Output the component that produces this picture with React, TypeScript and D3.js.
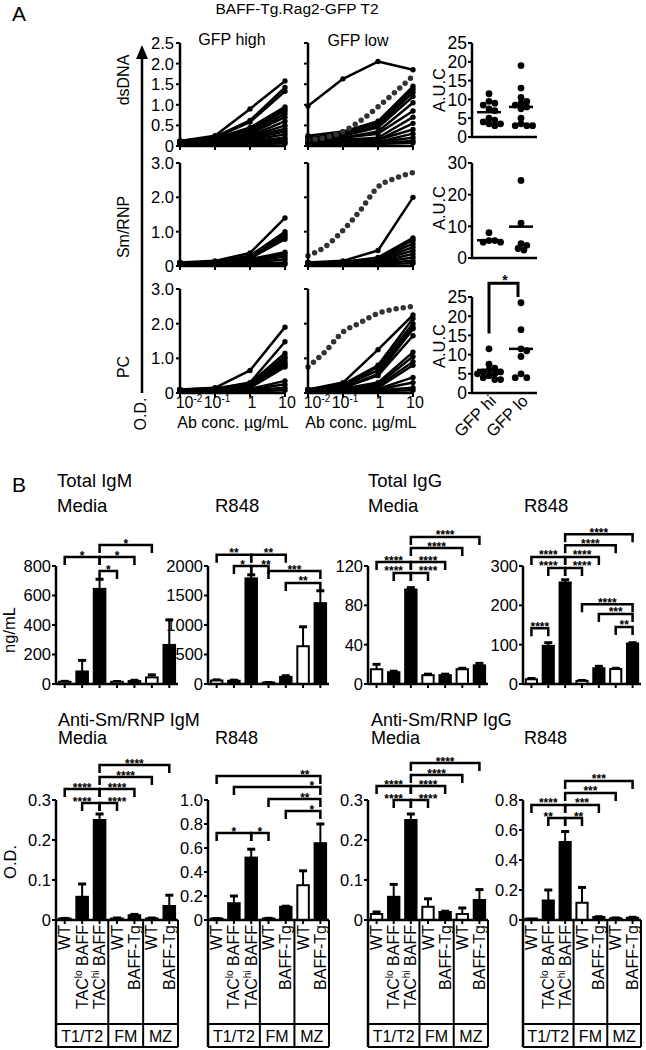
import React from "react";
import * as d3 from "d3";

const FONT = "'Liberation Sans', Arial, Helvetica, sans-serif";

// ================= Panel A data =================
const concentrations = [0.01, 0.1, 1, 10];
const concTickBase = ["10", "10", "1", "10"];
const concTickExp = ["-2", "-1", "", ""];
const dottedConc = [0.01, 0.03, 0.1, 0.3, 1, 3, 10];

const dsDNAHigh: number[][] = [
  [0.12, 0.25, 0.9, 1.58],
  [0.12, 0.22, 0.62, 1.42],
  [0.12, 0.2, 0.58, 1.33],
  [0.1, 0.18, 0.45, 0.95],
  [0.1, 0.15, 0.4, 0.9],
  [0.1, 0.15, 0.35, 0.85],
  [0.1, 0.15, 0.3, 0.78],
  [0.1, 0.12, 0.3, 0.7],
  [0.1, 0.12, 0.25, 0.6],
  [0.1, 0.1, 0.22, 0.5],
  [0.1, 0.1, 0.2, 0.42],
  [0.08, 0.1, 0.18, 0.35],
  [0.08, 0.08, 0.15, 0.28],
  [0.08, 0.08, 0.12, 0.2],
  [0.05, 0.06, 0.1, 0.15],
  [0.05, 0.05, 0.08, 0.1],
  [0.05, 0.05, 0.05, 0.06],
];
const dsDNALow: number[][] = [
  [0.97, 1.63, 2.05, 1.85],
  [0.25, 0.35, 0.6, 1.45],
  [0.2, 0.3, 0.55, 1.38],
  [0.2, 0.25, 0.5, 1.3],
  [0.15, 0.25, 0.45, 1.2],
  [0.15, 0.2, 0.35, 1.05],
  [0.12, 0.2, 0.3, 0.85],
  [0.12, 0.15, 0.2, 0.7],
  [0.1, 0.15, 0.15, 0.55],
  [0.1, 0.12, 0.15, 0.4],
  [0.1, 0.1, 0.1, 0.3],
  [0.08, 0.1, 0.1, 0.2],
  [0.08, 0.08, 0.08, 0.12],
  [0.05, 0.05, 0.05, 0.08],
];
const dsDNAStandard = [0.15, 0.2, 0.35, 0.6, 0.95, 1.3, 1.7];

const smHigh: number[][] = [
  [0.1, 0.15, 0.38, 1.4],
  [0.1, 0.12, 0.3, 1.0],
  [0.1, 0.12, 0.28, 0.92],
  [0.1, 0.12, 0.25, 0.85],
  [0.1, 0.1, 0.22, 0.78],
  [0.08, 0.1, 0.2, 0.4],
  [0.08, 0.1, 0.15, 0.35],
  [0.08, 0.08, 0.12, 0.28],
  [0.08, 0.08, 0.1, 0.2],
  [0.05, 0.05, 0.08, 0.1],
  [0.05, 0.05, 0.05, 0.05],
];
const smLow: number[][] = [
  [0.1, 0.15, 0.45, 2.0],
  [0.1, 0.12, 0.25, 0.82],
  [0.1, 0.12, 0.22, 0.75],
  [0.1, 0.1, 0.2, 0.65],
  [0.08, 0.1, 0.18, 0.55],
  [0.08, 0.1, 0.15, 0.45],
  [0.08, 0.08, 0.12, 0.35],
  [0.05, 0.08, 0.1, 0.25],
  [0.05, 0.05, 0.08, 0.15],
  [0.05, 0.05, 0.05, 0.08],
];
const smStandard = [0.3, 0.55, 1.04, 1.6, 2.3, 2.55, 2.72];

const pcHigh: number[][] = [
  [0.1, 0.15, 0.65, 1.9],
  [0.1, 0.12, 0.3, 1.48],
  [0.1, 0.12, 0.28, 1.15],
  [0.1, 0.12, 0.25, 1.05],
  [0.1, 0.1, 0.25, 1.0],
  [0.1, 0.1, 0.22, 0.92],
  [0.08, 0.1, 0.2, 0.85],
  [0.08, 0.1, 0.2, 0.8],
  [0.08, 0.08, 0.15, 0.75],
  [0.08, 0.08, 0.12, 0.35],
  [0.05, 0.08, 0.1, 0.25],
  [0.05, 0.05, 0.08, 0.15],
  [0.05, 0.05, 0.05, 0.08],
];
const pcLow: number[][] = [
  [0.1, 0.3, 1.25, 2.25],
  [0.1, 0.25, 0.8, 2.15],
  [0.1, 0.2, 0.75, 2.0],
  [0.1, 0.2, 0.65, 1.9],
  [0.1, 0.15, 0.55, 1.85],
  [0.08, 0.15, 0.5, 1.65],
  [0.08, 0.12, 0.3, 1.18],
  [0.08, 0.12, 0.25, 1.05],
  [0.08, 0.1, 0.2, 0.9],
  [0.05, 0.1, 0.15, 0.8],
  [0.05, 0.08, 0.12, 0.45],
  [0.05, 0.08, 0.1, 0.3],
  [0.05, 0.05, 0.08, 0.15],
  [0.05, 0.05, 0.05, 0.08],
];
const pcStandard = [0.75, 1.18, 1.76, 2.02, 2.3, 2.42, 2.5];

const rowNames = ["dsDNA", "Sm/RNP", "PC"];
const rowMax = [2.5, 3, 3];
const rowTicks = [
  [0, 0.5, 1, 1.5, 2, 2.5],
  [0, 1, 2, 3],
  [0, 1, 2, 3],
];

// AUC
const aucGroups = ["GFP hi", "GFP lo"];
const aucDsHi = [11.5, 9.5, 9, 8.5, 7.5, 7, 5, 4.5, 4, 3.5, 3.5, 3];
const aucDsLo = [19, 13, 10.5, 9.5, 9, 8.5, 8, 7.5, 5, 3.5, 3, 3, 3];
const aucSmHi = [8, 5.5, 5.5, 5, 5];
const aucSmLo = [24.5, 11, 4.5, 4, 3, 2.5];
const aucPcHi = [11.5, 7.5, 6.5, 6, 5.5, 5.5, 5, 5, 4.5, 4, 3.5, 3.5];
const aucPcLo = [23.5, 16.5, 11.5, 11, 9.5, 5, 4, 4];
const aucMeans = [
  [6.6, 8.0],
  [5.6, 9.9],
  [6.0, 11.5],
];
const aucMax = [25, 30, 25];
const aucTicks = [
  [0, 5, 10, 15, 20, 25],
  [0, 10, 20, 30],
  [0, 5, 10, 15, 20, 25],
];
// significance bracket for PC row: [left leg end, right leg end, top] in A.U.C units
const aucPcSig = { label: "*", left: 15.5, right: 25, top: 28.6 };

// ================= Panel B data =================
const barLabels = ["WT", "TAC|lo|BAFF", "TAC|hi|BAFF", "WT", "BAFF-Tg", "WT", "BAFF-Tg"];
const subsets = ["T1/T2", "FM", "MZ"];
const subsetSizes = [3, 2, 2];

const igmMedia = [15, 85, 645, 15, 20, 45, 265];
const igmMediaErr = [18, 160, 710, 17, 25, 62, 435];
const igmR848 = [60, 55, 1790, 20, 120, 640, 1370];
const igmR848Err = [70, 65, 1850, 25, 140, 970, 1580];
const iggMedia = [15, 12, 96, 9, 9, 15, 19];
const iggMediaErr = [20, 13, 98, 10, 10, 16, 21];
const iggR848 = [12, 97, 258, 8, 40, 38, 103];
const iggR848Err = [14, 105, 265, 9, 45, 40, 105];
const smIgmMedia = [0.003, 0.058, 0.25, 0.003, 0.012, 0.004, 0.035];
const smIgmMediaErr = [0.004, 0.09, 0.265, 0.005, 0.014, 0.005, 0.062];
const smIgmR848 = [0.01, 0.14, 0.52, 0.012, 0.11, 0.29, 0.64];
const smIgmR848Err = [0.012, 0.2, 0.59, 0.014, 0.115, 0.41, 0.8];
const smIggMedia = [0.015, 0.058, 0.25, 0.033, 0.02, 0.015, 0.05];
const smIggMediaErr = [0.02, 0.089, 0.265, 0.053, 0.022, 0.03, 0.076];
const smIggR848 = [0.003, 0.13, 0.52, 0.115, 0.02, 0.012, 0.015];
const smIggR848Err = [0.004, 0.2, 0.59, 0.217, 0.022, 0.014, 0.018];

// a, b: compared bars (0-based); y: bracket height in axis units; at: label over bar index
type Br = { a: number; b: number; label: string; y: number; at?: number };
const igmMediaSig: Br[] = [
  { a: 2, b: 5, label: "*", y: 942 },
  { a: 0, b: 2, label: "*", y: 861 },
  { a: 2, b: 4, label: "*", y: 861 },
  { a: 2, b: 3, label: "*", y: 766 },
];
const igmR848Sig: Br[] = [
  { a: 0, b: 2, label: "**", y: 2190 },
  { a: 2, b: 4, label: "**", y: 2190 },
  { a: 1, b: 2, label: "*", y: 2000, at: 1.5 },
  { a: 2, b: 3, label: "**", y: 2000, at: 2.85 },
  { a: 3, b: 6, label: "***", y: 1915 },
  { a: 4, b: 6, label: "**", y: 1712 },
];
const iggMediaSig: Br[] = [
  { a: 2, b: 6, label: "****", y: 149.5 },
  { a: 2, b: 5, label: "****", y: 138.3 },
  { a: 0, b: 2, label: "****", y: 124 },
  { a: 2, b: 4, label: "****", y: 124 },
  { a: 1, b: 2, label: "****", y: 113, at: 1 },
  { a: 2, b: 3, label: "****", y: 113, at: 3 },
];
const iggR848Sig: Br[] = [
  { a: 2, b: 6, label: "****", y: 381 },
  { a: 2, b: 5, label: "****", y: 353 },
  { a: 0, b: 2, label: "****", y: 323 },
  { a: 2, b: 4, label: "****", y: 323 },
  { a: 1, b: 2, label: "****", y: 295, at: 1 },
  { a: 2, b: 3, label: "****", y: 295, at: 3 },
  { a: 3, b: 6, label: "****", y: 203 },
  { a: 4, b: 6, label: "***", y: 178 },
  { a: 5, b: 6, label: "**", y: 145 },
  { a: 0, b: 1, label: "****", y: 142 },
];
const smIgmMediaSig: Br[] = [
  { a: 2, b: 6, label: "****", y: 0.3875 },
  { a: 2, b: 5, label: "****", y: 0.3575 },
  { a: 0, b: 2, label: "****", y: 0.3275 },
  { a: 2, b: 4, label: "****", y: 0.3275 },
  { a: 1, b: 2, label: "****", y: 0.2925, at: 1 },
  { a: 2, b: 3, label: "****", y: 0.2925, at: 3 },
];
const smIgmR848Sig: Br[] = [
  { a: 0, b: 6, label: "**", y: 1.2, at: 5.1 },
  { a: 1, b: 6, label: "*", y: 1.108, at: 5.5 },
  { a: 3, b: 6, label: "**", y: 1.008, at: 5.1 },
  { a: 4, b: 6, label: "*", y: 0.908, at: 5.5 },
  { a: 0, b: 2, label: "*", y: 0.725 },
  { a: 2, b: 3, label: "*", y: 0.725 },
];
const smIggMediaSig: Br[] = [
  { a: 2, b: 6, label: "****", y: 0.3925 },
  { a: 2, b: 5, label: "****", y: 0.3625 },
  { a: 0, b: 2, label: "****", y: 0.335 },
  { a: 2, b: 4, label: "****", y: 0.335 },
  { a: 1, b: 2, label: "****", y: 0.3, at: 1 },
  { a: 2, b: 3, label: "****", y: 0.3, at: 3 },
];
const smIggR848Sig: Br[] = [
  { a: 2, b: 6, label: "***", y: 0.927 },
  { a: 2, b: 5, label: "***", y: 0.847 },
  { a: 0, b: 2, label: "****", y: 0.767 },
  { a: 2, b: 4, label: "***", y: 0.767 },
  { a: 1, b: 2, label: "**", y: 0.68, at: 1 },
  { a: 2, b: 3, label: "**", y: 0.68, at: 2.8 },
];

// ================= Components =================
const SW = 2.5;

function LineChart(props: {
  x0: number; yTop: number; yZero: number; max: number; ticks: number[];
  lines: number[][]; standard?: number[]; yLabels: boolean; xLabels: boolean;
}) {
  const { x0, yTop, yZero, max, ticks, lines, standard, yLabels, xLabels } = props;
  const x = d3.scaleLog().domain([0.01, 10]).range([x0, x0 + 105]);
  const y = d3.scaleLinear().domain([0, max]).range([yZero, yTop]);
  const line = d3.line<number>().x((_, i) => x(concentrations[i])).y((d) => y(d));
  const stdLine = d3
    .line<number>()
    .x((_, i) => x(dottedConc[i]))
    .y((d) => y(d))
    .curve(d3.curveMonotoneX);
  const fmt = (v: number) => (v === 0 ? "0" : v.toFixed(1));
  return (
    <g>
      {lines.map((l, i) => (
        <g key={i}>
          <path d={line(l) || ""} fill="none" stroke="#000" strokeWidth={2.5} strokeLinejoin="round" />
          {l.map((v, j) => (
            <circle key={j} cx={x(concentrations[j])} cy={y(v)} r={2.7} fill="#000" />
          ))}
        </g>
      ))}
      {standard && (
        <path
          d={stdLine(standard) || ""}
          fill="none"
          stroke="#333"
          strokeWidth={5.5}
          strokeLinecap="round"
          strokeDasharray="0 7.2"
        />
      )}
      <line x1={x0} x2={x0} y1={yTop} y2={yZero} stroke="#000" strokeWidth={SW} />
      <line x1={x0} x2={x0 + 106} y1={yZero} y2={yZero} stroke="#000" strokeWidth={SW} />
      {ticks.map((t) => (
        <g key={t}>
          <line x1={x0 - 4} x2={x0} y1={y(t)} y2={y(t)} stroke="#000" strokeWidth={2} />
          {yLabels && (
            <text x={x0 - 6} y={y(t)} dy="0.36em" textAnchor="end" fontSize={16.5}>
              {fmt(t)}
            </text>
          )}
        </g>
      ))}
      {concentrations.map((c, i) => (
        <g key={c}>
          <line x1={x(c)} x2={x(c)} y1={yZero} y2={yZero + 4} stroke="#000" strokeWidth={2} />
          {xLabels && (
            <text x={x(c) + (i === 0 ? 9 : 2)} y={yZero + 15} textAnchor="middle" fontSize={16}>
              {concTickBase[i]}
              {concTickExp[i] && (
                <tspan dy={-6} fontSize={10}>
                  {concTickExp[i]}
                </tspan>
              )}
            </text>
          )}
        </g>
      ))}
      {xLabels && (
        <text x={x0 + 53} y={yZero + 35} textAnchor="middle" fontSize={16}>
          Ab conc. µg/mL
        </text>
      )}
    </g>
  );
}

function swarm(vals: number[], cx: number, y: (v: number) => number, r: number) {
  const placed: { x: number; y: number }[] = [];
  const sorted = [...vals].sort((a, b) => b - a);
  for (const v of sorted) {
    const py = y(v);
    let px = cx;
    for (let k = 0; k < 30; k++) {
      const off = k === 0 ? 0 : (k % 2 === 1 ? 1 : -1) * Math.ceil(k / 2) * r * 0.85;
      px = cx + off;
      if (placed.every((p) => Math.hypot(p.x - px, p.y - py) >= r * 1.55)) break;
    }
    placed.push({ x: px, y: py });
  }
  return placed;
}

function AucChart(props: {
  yTop: number; yZero: number; max: number; ticks: number[]; hi: number[]; lo: number[];
  means: number[]; labelY: number; sig?: typeof aucPcSig; xLabels?: boolean;
}) {
  const { yTop, yZero, max, ticks, hi, lo, means, labelY, sig, xLabels } = props;
  const x0 = 472;
  const centers = [489, 521];
  const y = d3.scaleLinear().domain([0, max]).range([yZero, yTop]);
  const r = 3.4;
  const groups = [hi, lo];
  return (
    <g>
      <text transform={`translate(445,${labelY}) rotate(-90)`} textAnchor="middle" fontSize={16.5}>
        A.U.C
      </text>
      {groups.map((g, gi) =>
        swarm(g, centers[gi], y, r).map((p, i) => <circle key={`${gi}-${i}`} cx={p.x} cy={p.y} r={r} fill="#000" />)
      )}
      {means.map((m, gi) => (
        <line key={gi} x1={centers[gi] - 12} x2={centers[gi] + 12} y1={y(m)} y2={y(m)} stroke="#000" strokeWidth={2.5} />
      ))}
      <line x1={x0} x2={x0} y1={yTop} y2={yZero} stroke="#000" strokeWidth={SW} />
      <line x1={x0 - 1} x2={537} y1={yZero} y2={yZero} stroke="#000" strokeWidth={SW} />
      {ticks.map((t) => (
        <g key={t}>
          <line x1={x0 - 4} x2={x0} y1={y(t)} y2={y(t)} stroke="#000" strokeWidth={2} />
          <text x={x0 - 5} y={y(t)} dy="0.36em" textAnchor="end" fontSize={17.5}>
            {t}
          </text>
        </g>
      ))}
      {sig && (
        <g>
          <path
            d={`M${centers[0]},${y(sig.left)}V${y(sig.top)}H${centers[1] - 3}V${y(sig.right)}`}
            fill="none"
            stroke="#000"
            strokeWidth={3}
          />
          <text x={(centers[0] + centers[1]) / 2} y={y(sig.top) + 2} textAnchor="middle" fontSize={14} fontWeight="bold">
            {sig.label}
          </text>
        </g>
      )}
      {xLabels &&
        aucGroups.map((g, i) => (
          <text key={g} transform={`translate(${centers[i] + 8},${yZero + 9}) rotate(-45)`} textAnchor="end" fontSize={16.5}>
            {g}
          </text>
        ))}
    </g>
  );
}

function BarLabel({ label, x, y }: { label: string; x: number; y: number }) {
  const parts = label.split("|");
  return (
    <text transform={`translate(${x},${y}) rotate(-90)`} textAnchor="end" fontSize={16}>
      {parts.length === 3 ? (
        <>
          {parts[0]}
          <tspan dy={-6} fontSize={10}>
            {parts[1]}
          </tspan>
          <tspan dy={6}>{" " + parts[2]}</tspan>
        </>
      ) : (
        label
      )}
    </text>
  );
}

function BarChart(props: {
  x0: number; w: number; yTop: number; yZero: number; max: number; ticks: number[];
  values: number[]; errs: number[]; sig: Br[]; table: boolean;
}) {
  const { x0, w, yTop, yZero, max, ticks, values, errs, sig, table } = props;
  const xb = d3.scaleBand<number>().domain(d3.range(values.length)).range([x0, x0 + w]).paddingInner(0.22).paddingOuter(0.11);
  const y = d3.scaleLinear().domain([0, max]).range([yZero, yTop]);
  const step = xb.step();
  const bw = xb.bandwidth();
  const cx = (i: number) => (xb(i) as number) + bw / 2;
  const fmt = (v: number) => (v === 0 ? "0" : max <= 1 ? (v === 1 ? "1.0" : String(+v.toFixed(1))) : String(v));
  const tableBottom = 1047;
  const tableMid = 1024;
  let acc = 0;
  const bounds = [x0];
  subsetSizes.forEach((s) => {
    acc += s;
    bounds.push(x0 + step * acc);
  });
  bounds[bounds.length - 1] = x0 + w;
  return (
    <g>
      {values.map((v, i) => {
        const open = barLabels[i] === "WT";
        const top = y(v);
        return (
          <g key={i}>
            <line x1={cx(i)} x2={cx(i)} y1={top} y2={y(errs[i])} stroke="#000" strokeWidth={2} />
            <line x1={cx(i) - 4} x2={cx(i) + 4} y1={y(errs[i])} y2={y(errs[i])} stroke="#000" strokeWidth={3} />
            <rect
              x={(xb(i) as number) + 1}
              y={Math.min(top, yZero - 1.5)}
              width={bw - 2}
              height={Math.max(yZero - top, 1.5)}
              fill={open ? "#fff" : "#000"}
              stroke="#000"
              strokeWidth={2}
            />
          </g>
        );
      })}
      <line x1={x0} x2={x0} y1={yTop} y2={table ? tableBottom : yZero} stroke="#000" strokeWidth={SW} />
      <line x1={x0} x2={x0 + w} y1={yZero} y2={yZero} stroke="#000" strokeWidth={SW} />
      {ticks.map((t) => (
        <g key={t}>
          <line x1={x0 - 4} x2={x0} y1={y(t)} y2={y(t)} stroke="#000" strokeWidth={2} />
          <text x={x0 - 5} y={y(t)} dy="0.36em" textAnchor="end" fontSize={16.5}>
            {fmt(t)}
          </text>
        </g>
      ))}
      {values.map((_, i) => (
        <line key={i} x1={cx(i)} x2={cx(i)} y1={yZero} y2={yZero + 4} stroke="#000" strokeWidth={2} />
      ))}
      {sig.map((s, i) => {
        const xa = cx(s.a);
        const xbb = cx(s.b);
        const yy = y(s.y);
        const lx = s.at !== undefined ? x0 + step * (s.at + 0.5) : (xa + xbb) / 2;
        return (
          <g key={i}>
            <path d={`M${xa},${yy + 8}V${yy}H${xbb}V${yy + 8}`} fill="none" stroke="#000" strokeWidth={2.5} />
            <text x={lx} y={yy + 2.5} textAnchor="middle" fontSize={12} fontWeight="bold">
              {s.label}
            </text>
          </g>
        );
      })}
      {table && (
        <g>
          {bounds.slice(1).map((bx, i) => (
            <line key={i} x1={bx} x2={bx} y1={yZero} y2={tableBottom} stroke="#000" strokeWidth={2} />
          ))}
          <line x1={x0} x2={x0 + w} y1={tableMid} y2={tableMid} stroke="#000" strokeWidth={2} />
          <line x1={x0} x2={x0 + w} y1={tableBottom} y2={tableBottom} stroke="#000" strokeWidth={2} />
          {barLabels.map((l, i) => (
            <BarLabel key={i} label={l} x={cx(i) + 5.5} y={yZero + 5} />
          ))}
          {subsets.map((s, i) => (
            <text key={s} x={(bounds[i] + bounds[i + 1]) / 2} y={tableBottom - 5} textAnchor="middle" fontSize={16}>
              {s}
            </text>
          ))}
        </g>
      )}
    </g>
  );
}

export default function App() {
  const aRows = [
    { yTop: 43, yZero: 146 },
    { yTop: 163, yZero: 266 },
    { yTop: 289, yZero: 393 },
  ];
  const aLabelY = [80, 227, 367];
  const highData = [dsDNAHigh, smHigh, pcHigh];
  const lowData = [dsDNALow, smLow, pcLow];
  const stdData = [dsDNAStandard, smStandard, pcStandard];
  const aucRows = [
    { yTop: 43, yZero: 137, hi: aucDsHi, lo: aucDsLo, labelY: 90 },
    { yTop: 163, yZero: 258, hi: aucSmHi, lo: aucSmLo, labelY: 208 },
    { yTop: 297, yZero: 393, hi: aucPcHi, lo: aucPcLo, labelY: 346 },
  ];

  const top = { yTop: 566, yZero: 684 };
  const bot = { yTop: 800, yZero: 920 };
  const bCharts = [
    { x0: 56, w: 122, ...top, max: 800, ticks: [0, 200, 400, 600, 800], values: igmMedia, errs: igmMediaErr, sig: igmMediaSig, table: false },
    { x0: 208, w: 121, ...top, max: 2000, ticks: [0, 500, 1000, 1500, 2000], values: igmR848, errs: igmR848Err, sig: igmR848Sig, table: false },
    { x0: 368, w: 120, ...top, max: 120, ticks: [0, 40, 80, 120], values: iggMedia, errs: iggMediaErr, sig: iggMediaSig, table: false },
    { x0: 523, w: 118, ...top, max: 300, ticks: [0, 100, 200, 300], values: iggR848, errs: iggR848Err, sig: iggR848Sig, table: false },
    { x0: 56, w: 122, ...bot, max: 0.3, ticks: [0, 0.1, 0.2, 0.3], values: smIgmMedia, errs: smIgmMediaErr, sig: smIgmMediaSig, table: true },
    { x0: 208, w: 121, ...bot, max: 1.0, ticks: [0, 0.2, 0.4, 0.6, 0.8, 1.0], values: smIgmR848, errs: smIgmR848Err, sig: smIgmR848Sig, table: true },
    { x0: 368, w: 120, ...bot, max: 0.3, ticks: [0, 0.1, 0.2, 0.3], values: smIggMedia, errs: smIggMediaErr, sig: smIggMediaSig, table: true },
    { x0: 523, w: 118, ...bot, max: 0.8, ticks: [0, 0.2, 0.4, 0.6, 0.8], values: smIggR848, errs: smIggR848Err, sig: smIggR848Sig, table: true },
  ];

  return (
    <svg
      width={646}
      height={1050}
      viewBox="0 0 646 1050"
      style={{ position: "absolute", left: 0, top: 0, background: "#fff" }}
      fontFamily={FONT}
      fill="#000"
    >
      <rect width={646} height={1050} fill="#fff" />
      {/* ---------- Panel A ---------- */}
      <text x={12} y={21} fontSize={21}>A</text>
      <text x={297} y={14} textAnchor="middle" fontSize={15.5}>BAFF-Tg.Rag2-GFP T2</text>
      <text x={232} y={45} textAnchor="middle" fontSize={16}>GFP high</text>
      <text x={358} y={46} textAnchor="middle" fontSize={16}>GFP low</text>
      {/* O.D. arrow */}
      <line x1={142} x2={142} y1={393} y2={56} stroke="#000" strokeWidth={2.5} />
      <polygon points="136,59 148,59 142,45" fill="#000" />
      <text transform="translate(146,414) rotate(-90)" textAnchor="middle" fontSize={16}>O.D.</text>
      {aRows.map((r, i) => (
        <g key={i}>
          <text transform={`translate(129,${aLabelY[i]}) rotate(-90)`} textAnchor="middle" fontSize={16}>
            {rowNames[i]}
          </text>
          <LineChart x0={180} yTop={r.yTop} yZero={r.yZero} max={rowMax[i]} ticks={rowTicks[i]} lines={highData[i]} yLabels={true} xLabels={i === 2} />
          <LineChart x0={308} yTop={r.yTop} yZero={r.yZero} max={rowMax[i]} ticks={rowTicks[i]} lines={lowData[i]} standard={stdData[i]} yLabels={false} xLabels={i === 2} />
        </g>
      ))}
      {aucRows.map((r, i) => (
        <AucChart
          key={i}
          yTop={r.yTop}
          yZero={r.yZero}
          max={aucMax[i]}
          ticks={aucTicks[i]}
          hi={r.hi}
          lo={r.lo}
          means={aucMeans[i]}
          labelY={r.labelY}
          sig={i === 2 ? aucPcSig : undefined}
          xLabels={i === 2}
        />
      ))}

      {/* ---------- Panel B ---------- */}
      <text x={12} y={492} fontSize={21}>B</text>
      <text x={57} y={487} fontSize={18.5}>Total IgM</text>
      <text x={57} y={512} fontSize={18.5}>Media</text>
      <text x={215} y={512} fontSize={18.5}>R848</text>
      <text x={368} y={487} fontSize={18.5}>Total IgG</text>
      <text x={368} y={512} fontSize={18.5}>Media</text>
      <text x={524} y={512} fontSize={18.5}>R848</text>
      <text x={58} y={726} fontSize={18}>Anti-Sm/RNP IgM</text>
      <text x={58} y={744} fontSize={18}>Media</text>
      <text x={215} y={744} fontSize={18}>R848</text>
      <text x={371} y={726} fontSize={18}>Anti-Sm/RNP IgG</text>
      <text x={371} y={744} fontSize={18}>Media</text>
      <text x={524} y={744} fontSize={18}>R848</text>
      <text transform="translate(15,630) rotate(-90)" textAnchor="middle" fontSize={16.5}>ng/mL</text>
      <text transform="translate(16,862) rotate(-90)" textAnchor="middle" fontSize={16.5}>O.D.</text>
      {bCharts.map((c, i) => (
        <BarChart key={i} {...c} />
      ))}
    </svg>
  );
}
